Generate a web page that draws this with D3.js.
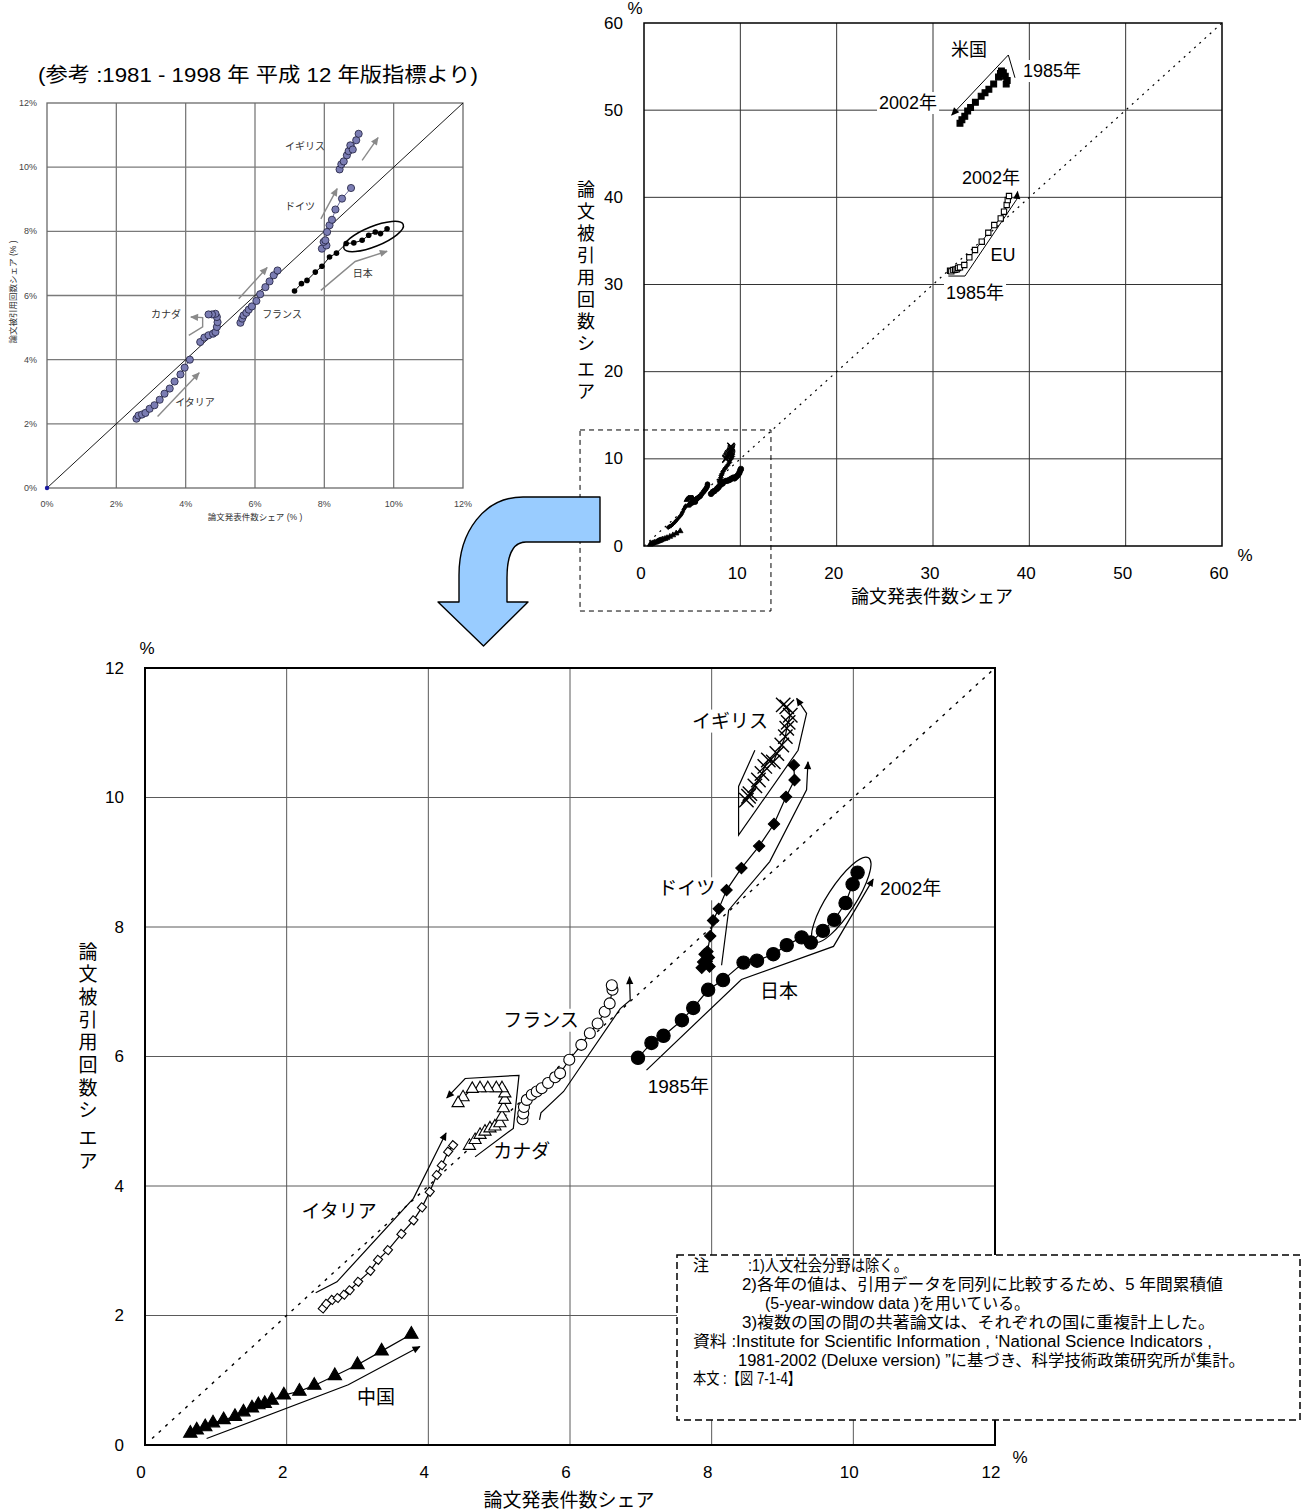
<!DOCTYPE html>
<html><head><meta charset="utf-8">
<script src="https://cdn.jsdelivr.net/npm/d3@7"></script>
<style>
body{margin:0;background:#fff;}
svg{display:block;font-family:"Liberation Sans","Noto Sans CJK JP",sans-serif;}
</style></head><body>
<svg id="chart" width="1305" height="1510"></svg>
<script>
// ---------- axis ticks ----------
const mainTicks = [0, 2, 4, 6, 8, 10, 12];
const overviewTicks = [0, 10, 20, 30, 40, 50, 60];
const refTicks = [0, 2, 4, 6, 8, 10, 12];
const refTickLabels = ["0%", "2%", "4%", "6%", "8%", "10%", "12%"];

// ---------- 1985-2002: paper share (x, %) vs citation share (y, %) ----------
const japan = [[6.96,5.98],[7.15,6.21],[7.32,6.32],[7.58,6.56],[7.74,6.75],[7.95,7.03],[8.16,7.18],[8.45,7.45],[8.64,7.48],[8.87,7.58],[9.06,7.72],[9.27,7.84],[9.40,7.76],[9.57,7.94],[9.73,8.11],[9.89,8.37],[9.99,8.66],[10.06,8.84]];
const germany = [[7.93,7.47],[7.86,7.37],[7.97,7.39],[7.88,7.46],[7.96,7.53],[7.90,7.58],[7.94,7.62],[7.98,7.86],[8.02,8.10],[8.10,8.28],[8.21,8.57],[8.42,8.91],[8.67,9.25],[8.88,9.59],[9.05,10.01],[9.17,10.27],[9.16,10.50]];
const uk = [[8.49,9.96],[8.52,10.02],[8.54,10.06],[8.61,10.18],[8.66,10.27],[8.71,10.37],[8.75,10.48],[8.80,10.58],[8.87,10.55],[8.92,10.68],[8.99,10.81],[9.04,10.94],[9.06,11.07],[9.08,11.16],[9.11,11.27],[9.06,11.40],[9.01,11.43]];
const france = [[5.33,5.03],[5.34,5.12],[5.35,5.22],[5.39,5.33],[5.46,5.41],[5.53,5.46],[5.60,5.51],[5.69,5.59],[5.79,5.68],[5.86,5.74],[5.99,5.95],[6.16,6.18],[6.28,6.36],[6.39,6.51],[6.49,6.69],[6.56,6.82],[6.60,7.03],[6.59,7.10]];
const canada = [[4.58,4.62],[4.66,4.71],[4.73,4.79],[4.80,4.84],[4.87,4.89],[4.94,4.92],[5.01,4.97],[5.04,5.07],[5.06,5.20],[5.08,5.33],[5.08,5.43],[5.04,5.51],[4.96,5.51],[4.84,5.51],[4.73,5.51],[4.62,5.50],[4.49,5.37],[4.42,5.28]];
const italy = [[2.51,2.11],[2.56,2.18],[2.64,2.24],[2.72,2.27],[2.81,2.32],[2.89,2.39],[3.01,2.52],[3.18,2.69],[3.29,2.86],[3.43,3.01],[3.62,3.26],[3.79,3.47],[3.91,3.67],[4.02,3.91],[4.12,4.17],[4.19,4.32],[4.28,4.53],[4.35,4.63]];
const china = [[0.64,0.18],[0.73,0.23],[0.85,0.28],[0.96,0.34],[1.11,0.39],[1.27,0.44],[1.39,0.51],[1.51,0.57],[1.60,0.62],[1.69,0.64],[1.79,0.69],[1.96,0.77],[2.18,0.83],[2.39,0.92],[2.68,1.07],[3.00,1.24],[3.34,1.45],[3.76,1.71]];
const usa = [[37.6,53.0],[37.7,53.4],[37.5,53.9],[37.3,54.3],[37.1,54.5],[37.0,54.2],[36.8,53.8],[36.3,53.0],[35.8,52.4],[35.4,52.0],[35.0,51.6],[34.4,50.9],[33.9,50.3],[33.6,49.9],[33.3,49.3],[33.0,48.9],[32.8,48.5]];
const eu = [[31.77,31.58],[31.9,31.5],[32.11,31.66],[32.3,31.7],[32.46,31.74],[32.6,31.9],[32.80,31.97],[33.25,32.24],[33.77,33.12],[34.36,33.96],[35.06,34.91],[35.74,35.94],[36.36,36.82],[37.03,37.59],[37.37,38.35],[37.65,39.12],[37.76,39.69],[37.89,40.15]];

// ---------- 1981-1998 reference panel ----------
const refUK = [[8.44,9.93],[8.49,10.09],[8.56,10.18],[8.65,10.37],[8.70,10.50],[8.75,10.68],[8.82,10.55],[8.92,10.84],[8.99,11.04]];
const refGermany = [[7.93,7.46],[8.06,7.56],[7.98,7.67],[8.03,7.72],[8.08,7.98],[8.15,8.19],[8.22,8.36],[8.32,8.68],[8.51,9.02],[8.77,9.35]];
const refJapan = [[7.14,6.14],[7.34,6.37],[7.50,6.47],[7.74,6.73],[7.93,6.91],[8.15,7.20],[8.35,7.32],[8.63,7.62],[8.85,7.64],[9.09,7.72],[9.28,7.88],[9.47,7.98],[9.62,7.93],[9.81,8.08]];
const refFrance = [[5.58,5.15],[5.63,5.28],[5.67,5.38],[5.75,5.46],[5.82,5.56],[5.91,5.66],[6.04,5.83],[6.15,6.04],[6.30,6.26],[6.42,6.44],[6.54,6.63],[6.65,6.78]];
const refCanada = [[4.42,4.55],[4.54,4.69],[4.66,4.76],[4.79,4.81],[4.86,4.86],[4.90,5.02],[4.92,5.17],[4.90,5.33],[4.86,5.43],[4.76,5.41],[4.66,5.41]];
const refItaly = [[2.58,2.16],[2.64,2.26],[2.74,2.29],[2.84,2.34],[2.96,2.47],[3.10,2.58],[3.25,2.75],[3.39,2.94],[3.54,3.10],[3.68,3.32],[3.85,3.54],[3.97,3.75],[4.12,4.00]];

// ---------- trend arrows (data units) ----------
const japanArrow = [[7.08,5.79],[8.42,7.19],[9.72,7.70],[10.28,8.74]];
const germanyArrow = [[8.14,7.41],[8.24,8.26],[8.82,9.01],[9.34,10.12],[9.36,10.55]];
const ukArrow = [[8.61,10.73],[8.38,10.17],[8.38,9.42],[9.22,10.73],[9.34,11.30],[9.20,11.53]];
const franceArrow = [[5.57,5.02],[5.59,5.13],[5.91,5.46],[6.71,6.74],[6.85,6.87],[6.84,7.23]];
const canadaArrow = [[4.66,4.45],[5.20,4.89],[5.28,5.71],[4.52,5.66],[4.26,5.36]];
const italyArrow = [[2.41,2.35],[2.71,2.52],[3.79,3.81],[4.25,4.82]];
const chinaArrow = [[0.87,0.10],[2.87,0.93],[3.88,1.52]];
const usArrow = [[38.51,53.72],[37.82,56.33],[31.94,49.44]];
const euArrow = [[31.59,30.97],[33.32,30.97],[38.69,39.77],[38.78,40.65]];
const refArrows = [
  [[9.09,10.21],[9.55,10.92]],
  [[7.90,8.39],[8.37,9.33]],
  [[5.53,5.90],[6.35,6.87]],
  [[3.19,2.23],[4.39,3.59]],
  [[4.09,4.76],[4.49,5.02],[4.49,5.31],[4.15,5.33]],
  [[7.90,6.16],[8.89,7.06],[9.81,7.38]]
];

// ---------- labels ----------
const mainLabels = [["イギリス",8.26,11.18],["ドイツ",7.65,8.59],["2002年",10.81,8.59],["日本",8.95,7.01],["フランス",5.59,6.56],["1985年",7.53,5.54],["カナダ",5.32,4.53],["イタリア",2.74,3.61],["中国",3.26,0.74]];
const overviewLabels = [["米国",33.74,56.90],["1985年",42.35,54.49],["2002年",27.41,50.82],["2002年",36.02,42.22],["EU",37.27,33.38],["1985年",34.36,29.02]];
const refLabels = [["イギリス",7.44,10.63],["ドイツ",7.30,8.76],["日本",9.11,6.70],["フランス",6.78,5.42],["カナダ",3.43,5.42],["イタリア",4.27,2.65]];
const notes = [
  ["注", 693, 1271, null],
  [":1)人文社会分野は除く。", 748, 1271, 160],
  ["2)各年の値は、引用データを同列に比較するため、5 年間累積値", 742, 1290, 481],
  ["(5-year-window data )を用いている。", 765, 1309, 265],
  ["3)複数の国の間の共著論文は、それぞれの国に重複計上した。", 742, 1328, 473],
  ["資料 :Institute for Scientific Information , ‘National Science Indicators ,", 693, 1347, 519],
  ["1981-2002 (Deluxe version) ”に基づき、科学技術政策研究所が集計。", 738, 1366, 507],
  ["本文 :【図 7-1-4】", 693, 1384, 108]
];

const svg = d3.select("#chart");
const defs = svg.append("defs");
function arrowMarker(id, color){
  defs.append("marker").attr("id", id).attr("viewBox","0 0 10 10")
    .attr("refX", 9).attr("refY", 5).attr("markerWidth", 9).attr("markerHeight", 8)
    .attr("markerUnits","userSpaceOnUse").attr("orient","auto")
    .append("path").attr("d","M0,0.5L10,5L0,9.5Z").attr("fill", color);
}
arrowMarker("arrowBlack", "#000");
arrowMarker("arrowGray", "#8a8a8a");

const shapes = {
  circle:   {sym: d3.symbolCircle,   area: 140, rot: 0,  fill: "#000"},
  ocircle:  {sym: d3.symbolCircle,   area: 95,  rot: 0,  fill: "#fff"},
  diamond:  {sym: d3.symbolSquare,   area: 64,  rot: 45, fill: "#000"},
  odiamond: {sym: d3.symbolSquare,   area: 42,  rot: 40, fill: "#fff"},
  tri:      {sym: d3.symbolTriangle, area: 78,  rot: 0,  fill: "#000"},
  otri:     {sym: d3.symbolTriangle, area: 64,  rot: 0,  fill: "#fff"},
  square:   {sym: d3.symbolSquare,   area: 34,  rot: 0,  fill: "#000"},
  osquare:  {sym: d3.symbolSquare,   area: 28,  rot: 0,  fill: "#fff"}
};

function drawSeries(g, xs, ys, pts, shape, opt = {}) {
  const k = opt.k || 1;
  const line = d3.line().x(d => xs(d[0])).y(d => ys(d[1]));
  g.append("path").attr("d", line(pts)).attr("fill","none")
    .attr("stroke", opt.lineColor || "#000").attr("stroke-width", opt.lineWidth || 1.2);
  const m = g.append("g");
  if (shape === "cross") {
    const a = 7.2 * k;
    m.selectAll("path").data(pts).join("path")
      .attr("d", d => `M${xs(d[0])-a},${ys(d[1])-a}L${xs(d[0])+a},${ys(d[1])+a}M${xs(d[0])-a},${ys(d[1])+a}L${xs(d[0])+a},${ys(d[1])-a}`)
      .attr("stroke","#000").attr("stroke-width", 1.4 * Math.max(k, 0.8));
    return;
  }
  const s = shapes[shape];
  m.selectAll("path").data(pts).join("path")
    .attr("d", d3.symbol(s.sym, s.area * k * k)())
    .attr("transform", d => `translate(${xs(d[0])},${ys(d[1])}) rotate(${s.rot})`)
    .attr("fill", opt.fill || s.fill).attr("stroke", "#000").attr("stroke-width", 1.1 * Math.min(1, k + 0.3));
}

function drawArrow(g, xs, ys, pts, marker, color, w) {
  const line = d3.line().x(d => xs(d[0])).y(d => ys(d[1]));
  g.append("path").attr("d", line(pts)).attr("fill","none").attr("stroke", color)
    .attr("stroke-width", w).attr("marker-end", `url(#${marker})`);
}

function addLabel(g, bgLayer, text, x, y, size, bg) {
  const t = g.append("text").attr("x", x).attr("y", y).attr("text-anchor","middle")
    .attr("dominant-baseline","central").attr("font-size", size).attr("fill","#000").text(text);
  if (bg) {
    const b = t.node().getBBox();
    bgLayer.append("rect").attr("x", b.x - 2).attr("y", b.y - 1).attr("width", b.width + 4)
      .attr("height", b.height + 2).attr("fill", "#fff");
  }
}

function stackedTitle(g, str, x, y0, step, gap, size) {
  let y = y0;
  for (const ch of str) {
    if (ch === " ") { y += gap; continue; }
    g.append("text").attr("x", x).attr("y", y).attr("text-anchor","middle")
      .attr("dominant-baseline","central").attr("font-size", size).text(ch);
    y += step;
  }
}

// ===================== main chart =====================
{
  const xs = d3.scaleLinear().domain([0, 12]).range([145, 995]);
  const ys = d3.scaleLinear().domain([0, 12]).range([1445, 668]);
  const g = svg.append("g");
  g.append("g").selectAll("line").data(mainTicks.slice(1, -1)).join("line")
    .attr("x1", d => xs(d)).attr("x2", d => xs(d)).attr("y1", ys(0)).attr("y2", ys(12))
    .attr("stroke", "#5a5a5a").attr("stroke-width", 1);
  g.append("g").selectAll("line").data(mainTicks.slice(1, -1)).join("line")
    .attr("y1", d => ys(d)).attr("y2", d => ys(d)).attr("x1", xs(0)).attr("x2", xs(12))
    .attr("stroke", "#5a5a5a").attr("stroke-width", 1);
  const bgL = g.append("g"), txtL = g.append("g");
  mainLabels.forEach(([t, x, y]) => addLabel(txtL, bgL, t, xs(x), ys(y), 19, true));
  g.append("line").attr("x1", xs(0.1)).attr("y1", ys(0.1)).attr("x2", xs(12)).attr("y2", ys(12))
    .attr("stroke","#000").attr("stroke-width", 1.4).attr("stroke-dasharray", "3,6");
  g.append("rect").attr("x", xs(0)).attr("y", ys(12)).attr("width", xs(12) - xs(0)).attr("height", ys(0) - ys(12))
    .attr("fill","none").attr("stroke","#000").attr("stroke-width", 2);

  [japanArrow, germanyArrow, ukArrow, franceArrow, canadaArrow, italyArrow, chinaArrow]
    .forEach(a => drawArrow(g, xs, ys, a, "arrowBlack", "#000", 1.2));
  g.append("ellipse").attr("cx", 0).attr("cy", 0).attr("rx", 50).attr("ry", 14)
    .attr("transform", `translate(${xs(9.83)},${ys(8.42)}) rotate(-57)`)
    .attr("fill","none").attr("stroke","#000").attr("stroke-width", 1.2);

  drawSeries(g, xs, ys, china, "tri");
  drawSeries(g, xs, ys, italy, "odiamond");
  drawSeries(g, xs, ys, canada, "otri");
  drawSeries(g, xs, ys, france, "ocircle");
  drawSeries(g, xs, ys, japan, "circle");
  drawSeries(g, xs, ys, germany, "diamond");
  drawSeries(g, xs, ys, uk, "cross");

  g.append("g").selectAll("text").data(mainTicks).join("text")
    .attr("x", d => xs(d) - 4).attr("y", 1472).attr("text-anchor","middle")
    .attr("dominant-baseline","central").attr("font-size", 17).text(d => d);
  g.append("g").selectAll("text").data(mainTicks).join("text")
    .attr("x", 124).attr("y", d => ys(d)).attr("text-anchor","end")
    .attr("dominant-baseline","central").attr("font-size", 17).text(d => d);
  g.append("text").attr("x", 147).attr("y", 648).attr("text-anchor","middle").attr("dominant-baseline","central").attr("font-size", 17).text("%");
  g.append("text").attr("x", 1020).attr("y", 1457).attr("text-anchor","middle").attr("dominant-baseline","central").attr("font-size", 17).text("%");
  g.append("text").attr("x", 569).attr("y", 1500).attr("text-anchor","middle").attr("dominant-baseline","central").attr("font-size", 19).text("論文発表件数シェア");
  stackedTitle(g, "論文被引用回数シ エア", 88, 952, 22.7, 5, 19);
}

// ===================== overview chart (0-60 %) =====================
{
  const xs = d3.scaleLinear().domain([0, 60]).range([644, 1222]);
  const ys = d3.scaleLinear().domain([0, 60]).range([546, 23]);
  const g = svg.append("g");
  g.append("g").selectAll("line").data(overviewTicks.slice(1, -1)).join("line")
    .attr("x1", d => xs(d)).attr("x2", d => xs(d)).attr("y1", ys(0)).attr("y2", ys(60))
    .attr("stroke", "#333").attr("stroke-width", 1);
  g.append("g").selectAll("line").data(overviewTicks.slice(1, -1)).join("line")
    .attr("y1", d => ys(d)).attr("y2", d => ys(d)).attr("x1", xs(0)).attr("x2", xs(60))
    .attr("stroke", "#333").attr("stroke-width", 1);
  const bgL = g.append("g"), txtL = g.append("g");
  overviewLabels.forEach(([t, x, y]) => addLabel(txtL, bgL, t, xs(x), ys(y), 18, true));
  g.append("line").attr("x1", xs(0)).attr("y1", ys(0)).attr("x2", xs(60)).attr("y2", ys(60))
    .attr("stroke","#000").attr("stroke-width", 1.2).attr("stroke-dasharray", "2,5");
  g.append("rect").attr("x", xs(0)).attr("y", ys(60)).attr("width", xs(60) - xs(0)).attr("height", ys(0) - ys(60))
    .attr("fill","none").attr("stroke","#000").attr("stroke-width", 1.5);
  // dashed frame marking the enlarged region
  g.append("rect").attr("x", xs(-6.64)).attr("y", ys(13.31)).attr("width", xs(13.18) - xs(-6.64)).attr("height", ys(-7.46) - ys(13.31))
    .attr("fill","none").attr("stroke","#000").attr("stroke-width", 1).attr("stroke-dasharray", "5,4");

  drawArrow(g, xs, ys, usArrow, "arrowBlack", "#000", 1);
  drawArrow(g, xs, ys, euArrow, "arrowBlack", "#000", 1);
  drawSeries(g, xs, ys, usa, "square", {lineWidth: 1});
  drawSeries(g, xs, ys, eu, "osquare", {lineWidth: 1});
  const small = {k: 0.42, fill: "#000", lineWidth: 2.5};
  drawSeries(g, xs, ys, china, "tri", small);
  drawSeries(g, xs, ys, italy, "odiamond", small);
  drawSeries(g, xs, ys, canada, "otri", small);
  drawSeries(g, xs, ys, france, "ocircle", small);
  drawSeries(g, xs, ys, japan, "circle", small);
  drawSeries(g, xs, ys, germany, "diamond", small);
  drawSeries(g, xs, ys, uk, "cross", {k: 0.5, lineWidth: 2.5});

  g.append("g").selectAll("text").data(overviewTicks).join("text")
    .attr("x", d => xs(d) - 3).attr("y", 573).attr("text-anchor","middle")
    .attr("dominant-baseline","central").attr("font-size", 17).text(d => d);
  g.append("g").selectAll("text").data(overviewTicks).join("text")
    .attr("x", 623).attr("y", d => ys(d)).attr("text-anchor","end")
    .attr("dominant-baseline","central").attr("font-size", 17).text(d => d);
  g.append("text").attr("x", 635).attr("y", 8).attr("text-anchor","middle").attr("dominant-baseline","central").attr("font-size", 17).text("%");
  g.append("text").attr("x", 1245).attr("y", 555).attr("text-anchor","middle").attr("dominant-baseline","central").attr("font-size", 17).text("%");
  g.append("text").attr("x", 932).attr("y", 597).attr("text-anchor","middle").attr("dominant-baseline","central").attr("font-size", 18).text("論文発表件数シェア");
  stackedTitle(g, "論文被引用回数シ エア", 586, 190, 22, 4, 18);
}

// ===================== reference panel (1981-1998) =====================
{
  const xs = d3.scaleLinear().domain([0, 12]).range([47, 463]);
  const ys = d3.scaleLinear().domain([0, 12]).range([488, 103]);
  const g = svg.append("g");
  g.append("text").attr("x", 38).attr("y", 82).attr("font-size", 20)
    .attr("textLength", 440).attr("lengthAdjust", "spacingAndGlyphs")
    .text("(参考 :1981 - 1998 年  平成 12 年版指標より)");
  g.append("g").selectAll("line").data(refTicks.slice(1, -1)).join("line")
    .attr("x1", d => xs(d)).attr("x2", d => xs(d)).attr("y1", ys(0)).attr("y2", ys(12))
    .attr("stroke", "#7a7a7a").attr("stroke-width", 1.3);
  g.append("g").selectAll("line").data(refTicks.slice(1, -1)).join("line")
    .attr("y1", d => ys(d)).attr("y2", d => ys(d)).attr("x1", xs(0)).attr("x2", xs(12))
    .attr("stroke", "#7a7a7a").attr("stroke-width", 1.3);
  g.append("rect").attr("x", xs(0)).attr("y", ys(12)).attr("width", xs(12) - xs(0)).attr("height", ys(0) - ys(12))
    .attr("fill","none").attr("stroke","#6a6a6a").attr("stroke-width", 1.3);
  g.append("line").attr("x1", xs(0)).attr("y1", ys(0)).attr("x2", xs(12)).attr("y2", ys(12))
    .attr("stroke","#000").attr("stroke-width", 0.9);
  g.append("circle").attr("cx", xs(0)).attr("cy", ys(0)).attr("r", 2.2).attr("fill", "#1a1aa0");

  refArrows.forEach(a => drawArrow(g, xs, ys, a, "arrowGray", "#8a8a8a", 1.4));
  g.append("ellipse").attr("cx", 0).attr("cy", 0).attr("rx", 32).attr("ry", 10)
    .attr("transform", `translate(${xs(9.42)},${ys(7.84)}) rotate(-22)`)
    .attr("fill","none").attr("stroke","#000").attr("stroke-width", 1.5);

  const refLine = d3.line().x(d => xs(d[0])).y(d => ys(d[1]));
  [refUK, refGermany, refFrance, refCanada, refItaly].forEach(s => {
    g.append("path").attr("d", refLine(s)).attr("fill","none").attr("stroke","#4a4a88").attr("stroke-width", 0.8);
    g.append("g").selectAll("circle").data(s).join("circle")
      .attr("cx", d => xs(d[0])).attr("cy", d => ys(d[1])).attr("r", 3.6)
      .attr("fill", "#7b7db3").attr("stroke", "#1e1e3c").attr("stroke-width", 0.8);
  });
  g.append("path").attr("d", refLine(refJapan)).attr("fill","none").attr("stroke","#000").attr("stroke-width", 1);
  g.append("g").selectAll("circle").data(refJapan).join("circle")
    .attr("cx", d => xs(d[0])).attr("cy", d => ys(d[1])).attr("r", 2.8).attr("fill", "#000");

  refLabels.forEach(([t, x, y]) => g.append("text").attr("x", xs(x)).attr("y", ys(y))
    .attr("text-anchor","middle").attr("dominant-baseline","central").attr("font-size", 10).attr("fill","#333").text(t));

  g.append("g").selectAll("text").data(refTicks).join("text")
    .attr("x", d => xs(d)).attr("y", 504).attr("text-anchor","middle")
    .attr("dominant-baseline","central").attr("font-size", 9).attr("fill","#444").text((d, i) => refTickLabels[i]);
  g.append("g").selectAll("text").data(refTicks).join("text")
    .attr("x", 37).attr("y", d => ys(d)).attr("text-anchor","end")
    .attr("dominant-baseline","central").attr("font-size", 9).attr("fill","#444").text((d, i) => refTickLabels[i]);
  g.append("text").attr("x", 255).attr("y", 517).attr("text-anchor","middle").attr("dominant-baseline","central")
    .attr("font-size", 8.5).attr("fill","#333").text("論文発表件数シェア (% )");
  g.append("text").attr("transform", "translate(13,292) rotate(-90)").attr("text-anchor","middle")
    .attr("dominant-baseline","central").attr("font-size", 8.5).attr("fill","#333").text("論文被引用回数シェア (% )");
}

// ===================== curved connector arrow =====================
svg.append("path")
  .attr("d", "M600,497 L523,497 C484,497 459,532 459,575 L459,602 L438,602 L483.5,646 L528,602 L507,602 L507,578 C507,556 513,542 526,542 L600,542 Z")
  .attr("fill", "#99ccff").attr("stroke", "#000").attr("stroke-width", 1.4).attr("stroke-linejoin", "round");

// ===================== notes =====================
{
  const g = svg.append("g");
  g.append("rect").attr("x", 677).attr("y", 1255).attr("width", 623).attr("height", 165)
    .attr("fill", "#fff").attr("stroke", "#000").attr("stroke-width", 1.5).attr("stroke-dasharray", "7,4");
  notes.forEach(([t, x, y, len]) => {
    const el = g.append("text").attr("x", x).attr("y", y).attr("font-size", 16).text(t);
    if (len) el.attr("textLength", len).attr("lengthAdjust", "spacingAndGlyphs");
  });
}
</script>
</body></html>
